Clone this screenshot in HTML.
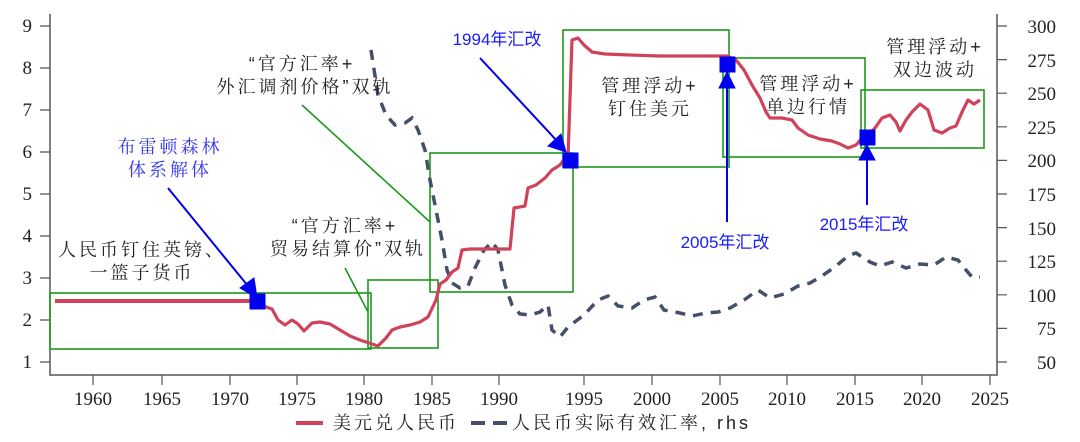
<!DOCTYPE html>
<html><head><meta charset="utf-8"><style>
body{margin:0;background:#fff;}
svg{display:block;font-family:"Liberation Serif","Noto Serif CJK SC",serif;}
.cn{font-family:"Liberation Sans","Noto Serif CJK SC",serif;font-size:18px;fill:#222;letter-spacing:3px;}
.bl{font-family:"Liberation Sans","Noto Sans CJK SC",sans-serif;font-size:17px;fill:#1a1aff;}
.bl2{font-family:"Liberation Sans","Noto Serif CJK SC",serif;font-size:18px;fill:#3333ee;letter-spacing:3px;}
</style></head><body>
<svg width="1080" height="442" viewBox="0 0 1080 442">
<g stroke="#555" stroke-width="1.5" fill="none">
<path d="M50 14V375H997V14"/>
</g>
<g stroke="#555" stroke-width="1.2">
<path d="M40 26H50M40 68H50M40 110H50M40 152H50M40 194H50M40 236H50M40 278H50M40 320H50M40 362H50"/>
<path d="M997 26H1007M997 59.6H1007M997 93.2H1007M997 126.8H1007M997 160.4H1007M997 194H1007M997 227.6H1007M997 261.2H1007M997 294.8H1007M997 328.4H1007M997 362H1007"/>
<path d="M93 375V385M162 375V385M230 375V385M297 375V385M364 375V385M432 375V385M499 375V385M584 375V385M652 375V385M720 375V385M787 375V385M855 375V385M922 375V385M990 375V385"/>
</g>
<g font-size="19" fill="#222" text-anchor="end">
<text x="32" y="32">9</text><text x="32" y="74">8</text><text x="32" y="116">7</text><text x="32" y="158">6</text><text x="32" y="200">5</text><text x="32" y="242">4</text><text x="32" y="284">3</text><text x="32" y="326">2</text><text x="32" y="368">1</text>
</g>
<g font-size="19" fill="#222" text-anchor="end">
<text x="1056" y="33">300</text><text x="1056" y="67">275</text><text x="1056" y="100">250</text><text x="1056" y="134">225</text><text x="1056" y="167">200</text><text x="1056" y="201">175</text><text x="1056" y="235">150</text><text x="1056" y="268">125</text><text x="1056" y="302">100</text><text x="1056" y="335">75</text><text x="1056" y="369">50</text>
</g>
<g font-size="19" fill="#222" text-anchor="middle">
<text x="93" y="405">1960</text><text x="162" y="405">1965</text><text x="230" y="405">1970</text><text x="297" y="405">1975</text><text x="364" y="405">1980</text><text x="432" y="405">1985</text><text x="499" y="405">1990</text><text x="584" y="405">1995</text><text x="652" y="405">2000</text><text x="720" y="405">2005</text><text x="787" y="405">2010</text><text x="855" y="405">2015</text><text x="922" y="405">2020</text><text x="990" y="405">2025</text>
</g>
<g stroke="#1a9a1a" stroke-width="1.6" fill="none">
<rect x="50" y="293" width="321" height="56"/>
<rect x="368" y="280" width="70" height="68"/>
<rect x="430" y="153" width="143" height="139"/>
<rect x="563" y="30" width="166" height="137"/>
<rect x="723" y="58" width="142" height="99"/>
<rect x="861" y="90" width="123" height="58"/>
<path d="M302 105L430 222M345 268L368 312"/>
</g>
<polyline fill="none" stroke="#44506a" stroke-width="3.5" stroke-dasharray="10,8" points="371,50 378,95 386,115 395,125 405,123 412,118 418,130 425,150 430,180 436,210 442,240 447,270 452,283 460,288 468,286 475,268 484,250 492,242 498,250 505,285 512,305 520,314 530,315 540,312 548,305 552,330 560,337 568,327 584,315 598,300 608,296 618,306 632,308 644,300 655,297 664,310 680,313 692,316 706,313 718,312 730,308 744,300 758,290 770,298 784,294 798,286 810,283 822,276 836,266 848,256 856,253 870,262 880,266 892,262 906,268 920,264 934,265 946,257 958,260 966,270 972,277 980,277"/>
<polyline fill="none" stroke="#d0425a" stroke-width="3.2" stroke-linejoin="round" points="55,301 258,301 266,307 272,309 278,320 285,325 292,320 298,324 304,331 312,323 320,322 330,324 340,330 350,336 360,340 372,344 378,346 386,338 392,330 400,327 410,325 420,322 428,317 436,300 440,284 446,280 452,272 458,268 462,250 470,249 510,249 514,208 525,206 528,188 536,185 545,178 552,170 560,165 565,158 568,158 572,40 578,38 584,45 592,52 605,54 630,55 660,56 728,56 736,60 744,70 752,85 760,98 766,112 770,118 782,118 792,120 798,128 808,135 820,139 832,141 840,144 848,148 856,145 862,138 868,135 875,128 882,118 890,115 896,122 900,131 906,120 912,112 920,104 928,110 934,130 942,133 950,128 956,126 962,112 968,100 974,104 980,100"/>
<path d="M55 301H258" stroke="#d0425a" stroke-width="4"/>
<g fill="#0000ee" stroke="#0000ee">
<rect x="250" y="294" width="15" height="15"/>
<rect x="563" y="153" width="15" height="15"/>
<rect x="720" y="57" width="15" height="15"/>
<rect x="860" y="130" width="15" height="15"/>
<path d="M168 188L248 286" stroke-width="2"/>
<path d="M240 288L257 298L254 278Z"/>
<path d="M480 58L558 142" stroke-width="2"/>
<path d="M548 146L566 152L561 134Z"/>
<path d="M727 86V222M867 158V205" stroke-width="2"/>
<path d="M719 88L727 72L735 88Z"/>
<path d="M859 160L867 145L875 160Z"/>
</g>
<text class="cn" x="302" y="70" text-anchor="middle">“官方汇率+</text>
<text class="cn" x="305" y="93" text-anchor="middle">外汇调剂价格”双轨</text>
<text class="cn" x="345" y="232" text-anchor="middle">“官方汇率+</text>
<text class="cn" x="348" y="255" text-anchor="middle">贸易结算价”双轨</text>
<text class="cn" x="142" y="256" text-anchor="middle">人民币钉住英镑、</text>
<text class="cn" x="142" y="279" text-anchor="middle">一篮子货币</text>
<text class="bl2" x="170" y="153" text-anchor="middle">布雷顿森林</text>
<text class="bl2" x="170" y="176" text-anchor="middle">体系解体</text>
<text class="bl" x="497" y="45" text-anchor="middle">1994年汇改</text>
<text class="cn" x="650" y="92" text-anchor="middle">管理浮动+</text>
<text class="cn" x="650" y="115" text-anchor="middle">钉住美元</text>
<text class="cn" x="808" y="90" text-anchor="middle">管理浮动+</text>
<text class="cn" x="808" y="113" text-anchor="middle">单边行情</text>
<text class="cn" x="935" y="53" text-anchor="middle">管理浮动+</text>
<text class="cn" x="935" y="76" text-anchor="middle">双边波动</text>
<text class="bl" x="725" y="248" text-anchor="middle">2005年汇改</text>
<text class="bl" x="864" y="230" text-anchor="middle">2015年汇改</text>
<path d="M296 423H323" stroke="#d0425a" stroke-width="4"/>
<text class="cn" x="333" y="429">美元兑人民币</text>
<path d="M471 423H485M493 423H507" stroke="#44506a" stroke-width="4"/>
<text class="cn" x="512" y="429">人民币实际有效汇率, rhs</text>
</svg>
</body></html>
